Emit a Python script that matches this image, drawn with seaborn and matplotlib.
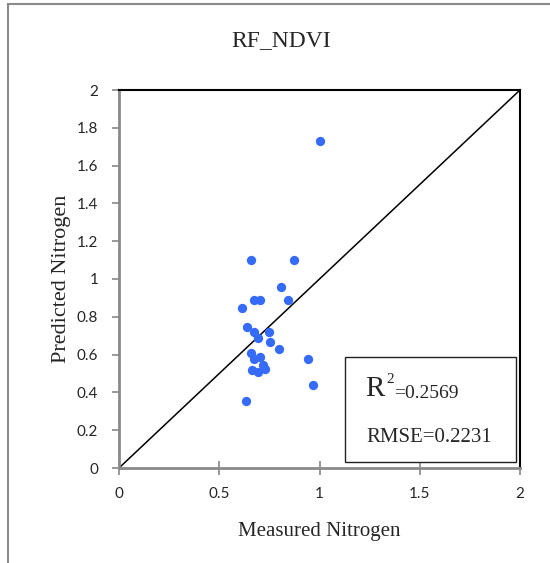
import matplotlib
matplotlib.use("Agg")
import matplotlib.pyplot as plt
import matplotlib.patches as mpatches
import seaborn as sns
import pandas as pd

measured = [1.004, 0.658, 0.873, 0.810, 0.675, 0.705, 0.845, 0.612, 0.640, 0.672,
            0.746, 0.695, 0.755, 0.798, 0.657, 0.675, 0.703, 0.944, 0.717, 0.730,
            0.665, 0.693, 0.969, 0.635]
predicted = [1.730, 1.099, 1.099, 0.959, 0.887, 0.887, 0.887, 0.848, 0.748, 0.720,
             0.718, 0.686, 0.667, 0.628, 0.608, 0.578, 0.586, 0.578, 0.545, 0.525,
             0.519, 0.508, 0.437, 0.356]
xticks = [0, 0.5, 1, 1.5, 2]
xticklabels = ["0", "0.5", "1", "1.5", "2"]
yticks = [0, 0.2, 0.4, 0.6, 0.8, 1, 1.2, 1.4, 1.6, 1.8, 2]
yticklabels = ["0", "0.2", "0.4", "0.6", "0.8", "1", "1.2", "1.4", "1.6", "1.8", "2"]
title = "RF_NDVI"
xlabel = "Measured Nitrogen"
ylabel = "Predicted Nitrogen"
r2_text = "=0.2569"
rmse_text = "RMSE=0.2231"

df = pd.DataFrame({"Measured": measured, "Predicted": predicted})

sns.set_style("white")
serif = ["Liberation Serif", "DejaVu Serif"]
tickfont = "Lato"

fig = plt.figure(figsize=(5.5, 5.63), dpi=100)
ax = fig.add_axes([119 / 550, 1 - 468 / 563, 401 / 550, 378 / 563])

# 1:1 line
ax.plot([0, 2], [0, 2], color="black", lw=1.1, zorder=1)

sns.scatterplot(data=df, x="Measured", y="Predicted", ax=ax, color="#356BF8",
                s=45, linewidth=0, zorder=3)

ax.set_xlim(0, 2)
ax.set_ylim(0, 2)
ax.set_xticks(xticks)
ax.set_xticklabels(xticklabels)
ax.set_yticks(yticks)
ax.set_yticklabels(yticklabels)
for lab in ax.get_xticklabels() + ax.get_yticklabels():
    lab.set_fontfamily(tickfont)
    lab.set_fontsize(11)
ax.tick_params(axis="x", direction="inout", length=10, width=1.2, color="#888888", pad=9,
               bottom=True)
ax.tick_params(axis="y", direction="out", length=5, width=1.2, color="#888888", pad=10,
               left=True)

for side in ["left", "bottom"]:
    ax.spines[side].set_color("#8a8a8a")
    ax.spines[side].set_linewidth(2.0)
for side in ["top", "right"]:
    ax.spines[side].set_color("black")
    ax.spines[side].set_linewidth(1.5)
    ax.spines[side].set_visible(True)

ax.set_xlabel(xlabel, family=serif, fontsize=15, labelpad=15)
ax.set_ylabel(ylabel, family=serif, fontsize=16, labelpad=4)

# stats box
box = mpatches.Rectangle((1.129, 0.033), 0.851, 0.553, facecolor="white",
                         edgecolor="#222222", lw=1.0, zorder=4)
ax.add_patch(box)
ax.text(1.227, 0.383, "R", family=serif, fontsize=21, va="baseline", ha="left", zorder=5)
ax.text(1.335, 0.450, "2", family=serif, fontsize=11, va="baseline", ha="left", zorder=5)
ax.text(1.372, 0.373, r2_text, family=serif, fontsize=14, va="baseline", ha="left", zorder=5)
ax.text(1.232, 0.136, rmse_text, family=serif, fontsize=15, va="baseline", ha="left", zorder=5)

fig.text(281 / 550, 1 - 41 / 563, title, family=serif, fontsize=17, ha="center", va="center")

# figure frame
frame = mpatches.Rectangle((7.5 / 550, -0.05), 1.2, 1 - 4 / 563 + 0.05,
                           transform=fig.transFigure, fill=False,
                           edgecolor="#8a8a8a", lw=1.5)
fig.patches.append(frame)

fig.savefig("out.png", dpi=100)
